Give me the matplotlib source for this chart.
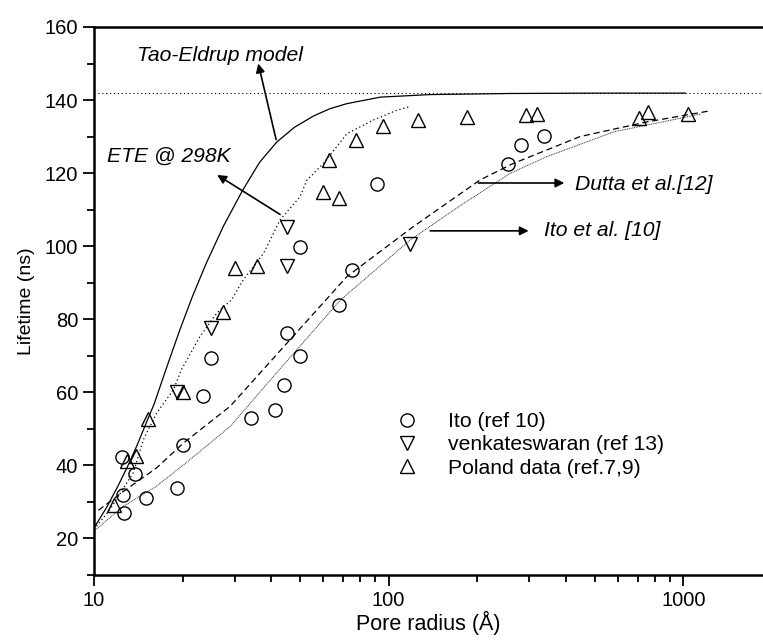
import matplotlib
matplotlib.use("Agg")
import matplotlib.pyplot as plt
from matplotlib.ticker import FixedLocator, NullFormatter, LogLocator

plt.rcParams['font.family'] = ['Liberation Sans', 'DejaVu Sans']

# ---- data ----
ito_x = [12.45, 12.5, 12.6, 13.75, 15.0, 19.1, 20.0, 23.5, 25.0, 34.0, 41.2, 44.3, 45.1,
         50.1, 67.8, 50.1, 75.2, 91.2, 254.7, 281, 335.6]
ito_y = [42.2, 32.0, 27.0, 37.7, 31.0, 33.7, 45.5, 59.0, 69.4, 53.1, 55.1, 62.0, 76.2,
         70.0, 84.0, 99.9, 93.5, 116.9, 122.6, 127.8, 130.1]

venk_x = [19.1, 24.9, 45.1, 45.1, 118.3]
venk_y = [60.0, 77.7, 105.3, 94.7, 100.5]

pol_x = [11.7, 12.9, 13.9, 15.2, 20.0, 27.3, 30.1, 35.7, 60.1, 68.1, 62.7, 77.5, 95.5,
         126.2, 185.2, 292, 318, 709, 759, 1034]
pol_y = [29.1, 41.1, 42.5, 52.7, 60.2, 82.1, 94.0, 94.7, 114.9, 113.1, 123.6, 129.2, 132.8,
         134.5, 135.4, 135.8, 136.3, 135.2, 136.8, 136.3]

# Tao-Eldrup model (solid)
te_x = [10, 11, 12, 13, 14, 15, 16, 17.5, 19.5, 21.5, 24, 27.5, 32, 36.5, 41.7,
        48, 55.5, 63, 72, 93.6, 138, 258, 500, 1015]
te_y = [22.9, 28.3, 34.0, 39.7, 45.5, 51.4, 56.8, 66.0, 76.8, 85.9, 95.2, 105.5, 115.4,
        123.0, 128.5, 132.6, 135.6, 137.6, 139.0, 140.8, 141.5, 141.8, 141.9, 141.9]

# ETE @ 298K (dotted)
ete_x = [10, 11.33, 12.4, 13.6, 14.7, 16.3, 18.6, 19.8, 22.9, 26.1, 29.3, 32.1, 37.6,
         42.8, 50, 52.8, 60, 72.2, 88.6, 106.5, 119]
ete_y = [22.5, 27.9, 32.9, 38.0, 47.0, 54.3, 60.7, 66.2, 75.3, 81.7, 85.3, 90.8, 98.0,
         107.2, 113.5, 118.1, 122.6, 130.8, 134.5, 137.2, 138.3]

# Dutta et al. [12] (dashed)
dut_x = [10.35, 12.6, 16.3, 20.1, 29, 43.5, 72.2, 121, 204, 264, 446, 750, 1223]
dut_y = [27.7, 32.9, 39.3, 46.1, 56.2, 72.0, 91.7, 105.3, 118.1, 122.6, 130.0, 134.0, 137.0]

# Ito et al. [10] (fine dotted)
itf_x = [10, 12.57, 16.3, 21.2, 29, 44.5, 68.7, 118.3, 179.6, 258, 344, 581, 1030, 1150]
itf_y = [22.0, 28.8, 34.3, 41.6, 50.7, 68.0, 85.3, 101.7, 111.7, 119.9, 124.5, 131.3, 135.4, 136.2]

limit_y = 142

fig = plt.figure(figsize=(7.63, 6.42), dpi=100)
ax = fig.add_axes([94/763, 1-575/642, (762-94)/763, (575-27)/642])
ax.set_xscale('log')
ax.set_xlim(10, 1850)
ax.set_ylim(10, 160)

ax.axhline(limit_y, color='black', lw=0.8, linestyle=(0, (1, 2.5)))
ax.plot(te_x, te_y, color='black', lw=0.9)
ax.plot(ete_x, ete_y, color='black', lw=0.9, linestyle=(0, (1, 2.2)))
ax.plot(dut_x, dut_y, color='black', lw=0.9, linestyle=(0, (5, 3)))
ax.plot(itf_x, itf_y, color='#333333', lw=0.7, linestyle=(0, (1, 0.8)))

mk = dict(linestyle='none', markerfacecolor='none', markeredgecolor='black',
          markeredgewidth=1.0, markersize=9.5)
ax.plot(ito_x, ito_y, marker='o', label='Ito (ref 10)', **mk)
ax.plot(venk_x, venk_y, marker='v', label='venkateswaran (ref 13)', **mk)
ax.plot(pol_x, pol_y, marker='^', label='Poland data (ref.7,9)', **mk)

fs = 14.5
fa = 15.2
ap = dict(arrowstyle='-|>', color='black', lw=1.2, mutation_scale=13, shrinkA=0, shrinkB=0)
ax.annotate('', xy=(36.1, 150), xytext=(41.5, 129.2), arrowprops=ap)
ax.annotate('', xy=(26.2, 119.5), xytext=(42.8, 108.7), arrowprops=ap)
ax.annotate('', xy=(394.5, 117.3), xytext=(201.7, 117.3), arrowprops=ap)
ax.annotate('', xy=(298.6, 104.2), xytext=(138.4, 104.2), arrowprops=ap)

ax.text(13.97, 152.2, 'Tao-Eldrup model', style='italic', fontsize=fa, ha='left', va='center')
ax.text(11.04, 124.6, 'ETE @ 298K', style='italic', fontsize=fa, ha='left', va='center')
ax.text(429.7, 117.0, 'Dutta et al.[12]', style='italic', fontsize=fa, ha='left', va='center')
ax.text(335.5, 104.4, 'Ito et al. [10]', style='italic', fontsize=fa, ha='left', va='center')

ax.legend(loc='upper left', bbox_to_anchor=(0.453, 0.297), frameon=False, fontsize=fa,
          handlelength=1.0, handletextpad=1.45, borderpad=0, borderaxespad=0,
          labelspacing=0.2, markerscale=1.0)

ax.set_xlabel('Pore radius (Å)', fontsize=15.5, labelpad=1)
ax.set_ylabel('Lifetime (ns)', fontsize=14, labelpad=7)

ax.yaxis.set_major_locator(FixedLocator([20, 40, 60, 80, 100, 120, 140, 160]))
ax.yaxis.set_minor_locator(FixedLocator([10, 30, 50, 70, 90, 110, 130, 150]))
ax.xaxis.set_major_locator(FixedLocator([10, 100, 1000]))
ax.set_xticklabels(['10', '100', '1000'])
ax.xaxis.set_minor_locator(LogLocator(base=10, subs=range(2, 10)))
ax.xaxis.set_minor_formatter(NullFormatter())

ax.tick_params(which='major', direction='out', length=8, width=1.3, labelsize=fs)
ax.tick_params(which='minor', direction='out', length=5, width=1.3)
ax.tick_params(top=False, right=False, which='both')
for s in ['left', 'bottom', 'top']:
    ax.spines[s].set_linewidth(1.8)
ax.spines['right'].set_visible(False)

fig.savefig('out.png', dpi=100)
